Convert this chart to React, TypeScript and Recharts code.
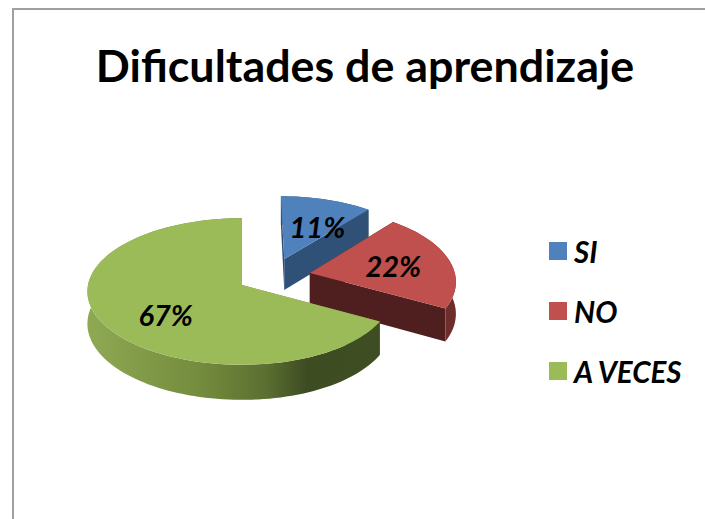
import { Legend, Pie, PieChart } from "recharts";

const CATEGORIES = ["SI", "NO", "A VECES"];
const VALUES = [11, 22, 67];
const COLORS = ["#4f81bd", "#c0504d", "#9bbb59"];
const CUT_COLORS = ["#2f5077", "#4f1e1e", "#6f8a3c"];
const WALL_COLORS = ["#2f5077", "#6e2c2a", "url(#greenWall)"];
const FONT = "Lato, sans-serif";

// plane offset of each slice (1 = pie radius)
const EXPLODE = [
  [0.285, -0.368],
  [0.452, -0.167],
  [0, 0],
];
const LABEL_RADIUS = [0.55, 0.59, 0.62];
const LABEL_TURN = [7, 0, -9];

const SQUASH = 0.472;
const PERSPECTIVE = 0.0884;
const RIGHT_PINCH = 0.025;
const DEPTH = 32;

const tableData = CATEGORIES.map((name, i) => ({ name, value: VALUES[i], fill: COLORS[i] }));

function project(X: number, Y: number, cx: number, cy: number, R: number, drop = 0) {
  const w = 1 - PERSPECTIVE * Y;
  const wx = w + RIGHT_PINCH * Math.max(X, 0);
  return [cx + (R * X) / wx, cy + (R * SQUASH * Y) / w + drop / w];
}

const toPath = (pts: number[][]) =>
  "M" + pts.map((p) => p[0].toFixed(2) + " " + p[1].toFixed(2)).join("L") + "Z";

function Slice3D(props: any) {
  const { cx, cy, outerRadius: R, startAngle, endAngle, name } = props;
  const i = CATEGORIES.indexOf(name);
  const [ex, ey] = EXPLODE[i];
  const from = 90 - startAngle;
  const to = 90 - endAngle;

  const rim = (deg: number, drop = 0) => {
    const a = (deg * Math.PI) / 180;
    return project(ex + Math.sin(a), ey - Math.cos(a), cx, cy, R, drop);
  };
  const apex = (drop = 0) => project(ex, ey, cx, cy, R, drop);

  const top: number[][] = [];
  const low: number[][] = [];
  const steps = Math.ceil((to - from) / 2);
  for (let s = 0; s <= steps; s++) {
    const deg = from + ((to - from) * s) / steps;
    top.push(rim(deg));
    low.push(rim(deg, DEPTH));
  }

  return (
    <g>
      <defs>
        <linearGradient id="greenWall" gradientUnits="userSpaceOnUse" x1="87" y1="0" x2="376" y2="0">
          <stop offset="0" stopColor="#8fa953" />
          <stop offset="0.4" stopColor="#738b3d" />
          <stop offset="0.62" stopColor="#5b6f31" />
          <stop offset="0.76" stopColor="#3e4c22" />
          <stop offset="1" stopColor="#3f4d22" />
        </linearGradient>
      </defs>
      <path d={toPath([apex(), rim(from), rim(from, DEPTH), apex(DEPTH)])} fill={CUT_COLORS[i]} />
      <path d={toPath([apex(), rim(to), rim(to, DEPTH), apex(DEPTH)])} fill={CUT_COLORS[i]} />
      <path d={toPath([...top, ...low.reverse()])} fill={WALL_COLORS[i]} />
      <path d={toPath([apex(), ...top])} fill={COLORS[i]} />
    </g>
  );
}

function SliceLabel(props: any) {
  const { cx, cy, outerRadius: R, midAngle, index, value } = props;
  const [ex, ey] = EXPLODE[index];
  const a = ((90 - midAngle + LABEL_TURN[index]) * Math.PI) / 180;
  const r = LABEL_RADIUS[index];
  const [x, y] = project(ex + r * Math.sin(a), ey - r * Math.cos(a), cx, cy, R);
  return (
    <text
      x={x}
      y={y}
      textAnchor="middle"
      dominantBaseline="central"
      fontFamily={FONT}
      fontSize={29}
      fontWeight={700}
      fontStyle="italic"
      fill="#000"
    >
      {value}%
    </text>
  );
}

function LegendList(props: any) {
  return (
    <div>
      {props.payload.map((item: any) => (
        <div key={item.value} style={{ display: "flex", alignItems: "center", height: 60 }}>
          <span style={{ width: 18, height: 18, background: item.color, marginRight: 7 }} />
          <span style={{ fontFamily: FONT, fontSize: 29.5, fontWeight: 700, fontStyle: "italic", color: "#000", whiteSpace: "nowrap" }}>
            {item.value}
          </span>
        </div>
      ))}
    </div>
  );
}

export default function App() {
  return (
    <div style={{ position: "fixed", left: 0, top: 0, width: 705, height: 519, overflow: "hidden", background: "#fff" }}>
      <div
        style={{
          position: "absolute",
          left: 12,
          top: 8,
          width: 700,
          height: 520,
          borderTop: "2px solid #a0a0a0",
          borderLeft: "2px solid #a0a0a0",
        }}
      />
      <PieChart width={705} height={519} margin={{ top: 0, right: 0, bottom: 0, left: 0 }} style={{ position: "absolute", left: 0, top: 0 }}>
        <text x={365} y={65} textAnchor="middle" dominantBaseline="central" fontFamily={FONT} fontSize={44.8} fontWeight={700} fill="#000">
          Dificultades de aprendizaje
        </text>
        <Pie
          data={tableData}
          dataKey="value"
          nameKey="name"
          cx={242}
          cy={285}
          outerRadius={154}
          startAngle={90}
          endAngle={-270}
          stroke="none"
          isAnimationActive={false}
          shape={Slice3D}
          label={SliceLabel}
          labelLine={false}
        />
        <Legend
          layout="vertical"
          align="center"
          verticalAlign="middle"
          itemSorter={null}
          wrapperStyle={{ left: 549, top: 221, width: 150 }}
          content={LegendList}
        />
      </PieChart>
    </div>
  );
}
